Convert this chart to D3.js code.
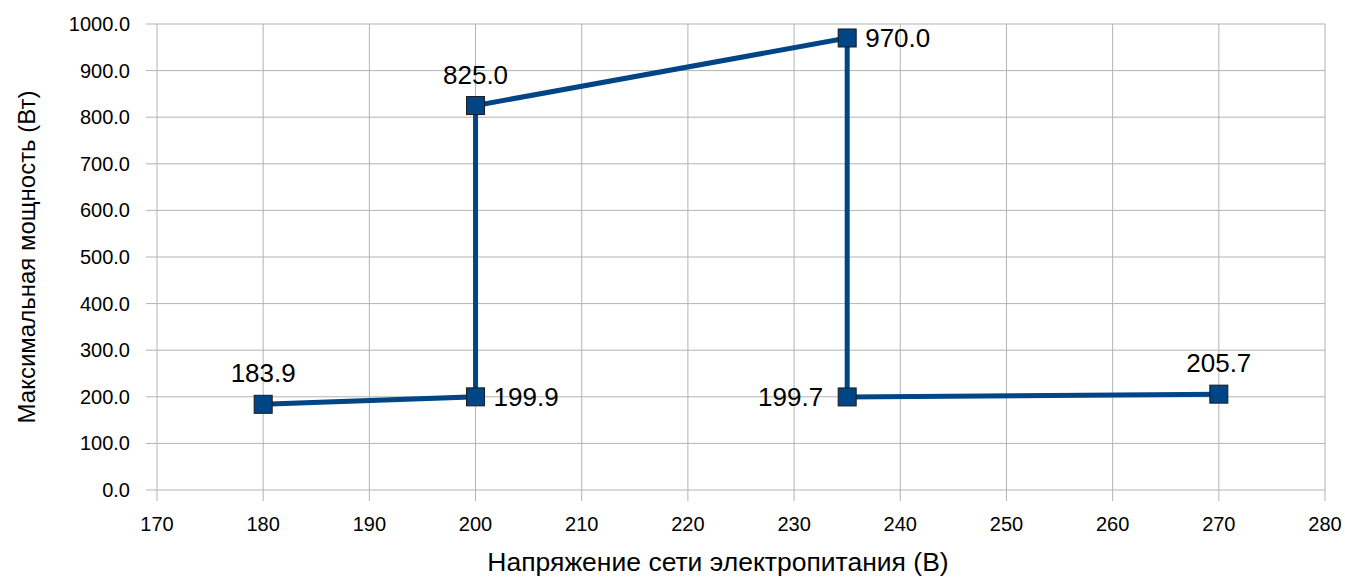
<!DOCTYPE html>
<html>
<head>
<meta charset="utf-8">
<script src="https://cdn.jsdelivr.net/npm/d3@7"></script>
<style>
    body { margin: 0; background: #fff; }
    svg { display: block; font-family: "Liberation Sans", Arial, sans-serif; }
    .grid line { stroke: #b3b3b3; stroke-width: 1; }
    .axis text { fill: #000; font-size: 20px; }
</style>
</head>
<body>
<div id="chart"></div>
<script>
// напряжение (В) и мощность (Вт)
var voltage = [180, 200, 200, 235, 235, 270];
var power = [183.9, 199.9, 825.0, 970.0, 199.7, 205.7];
var labelPos = ["top", "right", "top", "right", "left", "top"];
var xTicks = [170, 180, 190, 200, 210, 220, 230, 240, 250, 260, 270, 280];
var yTicks = [0, 100, 200, 300, 400, 500, 600, 700, 800, 900, 1000];

var W = 1345, H = 578;
var margin = {top: 24, right: 20, bottom: 88, left: 157};
var width = 1325 - margin.left,
    height = 490 - margin.top;

var svg = d3.select("#chart").append("svg")
    .attr("width", W)
    .attr("height", H)
    .append("g")
    .attr("transform", "translate(" + margin.left + "," + margin.top + ")");

var x = d3.scaleLinear().domain([170, 280]).range([0, width]);
var y = d3.scaleLinear().domain([0, 1000]).range([height, 0]);

// grid horizontal
svg.append("g").attr("class", "grid")
    .selectAll("line").data(yTicks).enter().append("line")
    .attr("x1", -11).attr("x2", width)
    .attr("y1", function (d) { return y(d); })
    .attr("y2", function (d) { return y(d); });

// grid vertical
svg.append("g").attr("class", "grid")
    .selectAll("line").data(xTicks).enter().append("line")
    .attr("x1", function (d) { return x(d); })
    .attr("x2", function (d) { return x(d); })
    .attr("y1", 0).attr("y2", height + 11);

// y tick labels
svg.append("g").attr("class", "axis")
    .selectAll("text").data(yTicks).enter().append("text")
    .attr("x", -27)
    .attr("y", function (d) { return y(d); })
    .attr("dy", "0.35em")
    .style("text-anchor", "end")
    .text(function (d) { return d3.format(".1f")(d); });

// x tick labels
svg.append("g").attr("class", "axis")
    .selectAll("text").data(xTicks).enter().append("text")
    .attr("x", function (d) { return x(d); })
    .attr("y", height + 41)
    .style("text-anchor", "middle")
    .text(function (d) { return d; });

// axis titles
svg.append("text")
    .attr("transform", "rotate(-90)")
    .attr("x", -(height / 2))
    .attr("y", -margin.left + 35)
    .style("text-anchor", "middle")
    .style("font-size", "24px")
    .text("Максимальная мощность (Вт)");

svg.append("text")
    .attr("x", width / 2 - 23)
    .attr("y", height + 81)
    .style("text-anchor", "middle")
    .style("font-size", "26.5px")
    .text("Напряжение сети электропитания (В)");

var data = voltage.map(function (v, i) {
    return {v: v, p: power[i], pos: labelPos[i]};
});

var line = d3.line()
    .x(function (d) { return x(d.v); })
    .y(function (d) { return y(d.p); });

svg.append("path")
    .attr("d", line(data))
    .attr("fill", "none")
    .attr("stroke", "#004586")
    .attr("stroke-width", 5);

svg.selectAll("rect.mark").data(data).enter().append("rect")
    .attr("class", "mark")
    .attr("x", function (d) { return x(d.v) - 9; })
    .attr("y", function (d) { return y(d.p) - 9; })
    .attr("width", 18)
    .attr("height", 18)
    .attr("fill", "#004586")
    .attr("stroke", "#1a1a1a")
    .attr("stroke-width", 1);

svg.selectAll("text.lbl").data(data).enter().append("text")
    .attr("class", "lbl")
    .style("font-size", "26px")
    .attr("x", function (d) {
        if (d.pos === "right") return x(d.v) + 18;
        if (d.pos === "left") return x(d.v) - 24;
        return x(d.v);
    })
    .attr("y", function (d) {
        if (d.pos === "top") return y(d.p) - 22;
        return y(d.p);
    })
    .attr("dy", function (d) { return d.pos === "top" ? 0 : "0.35em"; })
    .style("text-anchor", function (d) {
        if (d.pos === "right") return "start";
        if (d.pos === "left") return "end";
        return "middle";
    })
    .text(function (d) { return d3.format(".1f")(d.p); });
</script>
</body>
</html>
